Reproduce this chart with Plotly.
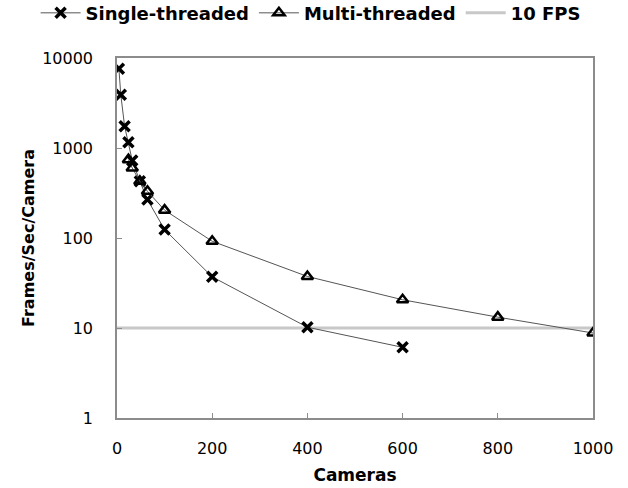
import plotly.graph_objects as go

# Data
single_cameras = [4, 8, 16, 24, 32, 48, 64, 100, 200, 400, 600]
single_fps = [7600, 3900, 1740, 1160, 728, 426, 267, 124, 37, 10.2, 6.1]

multi_cameras = [24, 32, 48, 64, 100, 200, 400, 600, 800, 1000]
multi_fps = [742, 600, 426, 330, 204, 92, 37.4, 20.6, 13.2, 8.8]

fps_line_x = [0, 1000]
fps_line_y = [10, 10]

y_ticks = [1, 10, 100, 1000, 10000]
x_ticks = [0, 200, 400, 600, 800, 1000]

FONT = "DejaVu Sans"
TOP_EXTRA = 20  # hidden strip above the window so the legend may sit high without pushing margins

fig = go.Figure()

fig.add_trace(go.Scatter(
    x=fps_line_x, y=fps_line_y, name="10 FPS",
    mode="lines", legendrank=3,
    line=dict(color="#c8c8c8", width=3),
))
fig.add_trace(go.Scatter(
    x=single_cameras, y=single_fps, name="Single-threaded",
    mode="lines+markers", legendrank=1,
    line=dict(color="#555555", width=1),
    marker=dict(symbol="x-thin", size=10, line=dict(color="black", width=3.5), color="black"),
))
fig.add_trace(go.Scatter(
    x=multi_cameras, y=multi_fps, name="Multi-threaded",
    mode="lines+markers", legendrank=2,
    line=dict(color="#555555", width=1),
    marker=dict(symbol="triangle-up-open", size=10, line=dict(color="black", width=2.5), color="black"),
))

fig.update_layout(
    width=628, height=488 + TOP_EXTRA,
    margin=dict(l=116.5, r=34.7, t=58.3 + TOP_EXTRA, b=69.7),
    paper_bgcolor="white", plot_bgcolor="white",
    font=dict(family=FONT, size=16, color="black"),
    showlegend=True,
    legend=dict(
        orientation="h", x=-0.171, xanchor="left", xref="paper",
        y=1.176, yanchor="top", yref="paper",
        font=dict(family=FONT, size=18, color="black", weight="bold"),
        traceorder="normal", itemwidth=40,
        bgcolor="rgba(0,0,0,0)",
    ),
    xaxis=dict(
        range=[0, 1000], tickvals=x_ticks, automargin=False,
        showgrid=False, zeroline=False,
        showline=True, linecolor="#8c8c8c", linewidth=1.5, mirror=True,
        ticks="inside", ticklen=5, tickcolor="#8c8c8c",
        ticklabelstandoff=15,
        title=dict(text="<b>Cameras</b>", font=dict(family=FONT, size=17), standoff=12),
    ),
    yaxis=dict(
        type="log", range=[0, 4], tickvals=y_ticks, automargin=False,
        ticktext=[str(v) for v in y_ticks],
        showgrid=False, zeroline=False,
        showline=True, linecolor="#8c8c8c", linewidth=1.5, mirror=True,
        ticks="inside", ticklen=5, tickcolor="#8c8c8c",
        ticklabelstandoff=19,
        title=dict(text="<b>Frames/Sec/Camera</b>", font=dict(family=FONT, size=16), standoff=4),
    ),
)

# remove the browser's default page margin and hide the extra top strip
fig.write_html(
    "out.html",
    config={"displayModeBar": False},
    post_script=(
        "document.body.style.margin='0';"
        "document.body.style.marginTop='-%dpx';"
        "document.body.style.overflow='hidden';" % TOP_EXTRA
    ),
)
